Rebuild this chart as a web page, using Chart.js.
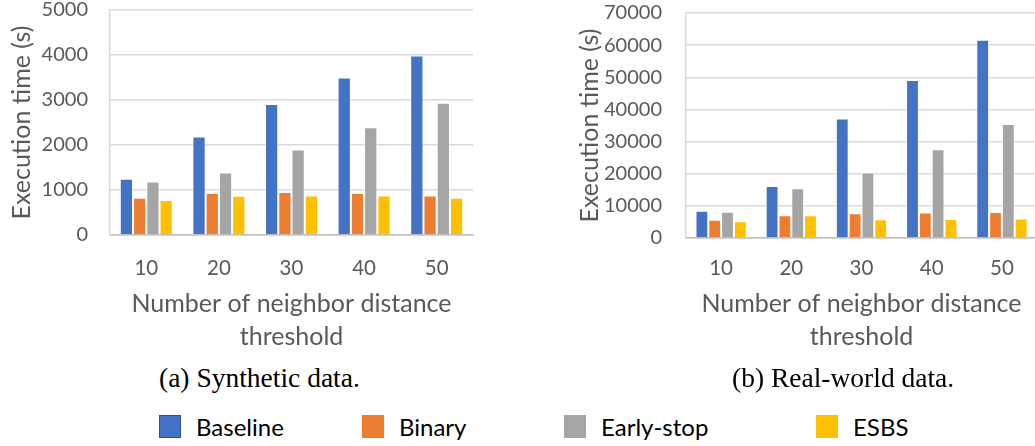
<!DOCTYPE html>
<html>
<head>
<meta charset="utf-8">
<script src="https://cdn.jsdelivr.net/npm/chart.js@4.4.1/dist/chart.umd.min.js"></script>
<style>
  html, body { margin: 0; padding: 0; background: #fff; }
  #wrap { position: relative; width: 1035px; height: 446px; overflow: hidden; background: #fff; }
  canvas { position: absolute; }
  .caption { position: absolute; font-family: "Liberation Serif", "Times New Roman", serif; font-size: 27.5px; line-height: 27px; color: #000; white-space: nowrap; }
  .legend-item { position: absolute; top: 415px; height: 23px; display: flex; align-items: center; }
  .legend-box { width: 22px; height: 23px; box-sizing: border-box; }
  .legend-text { margin-left: 15px; font-family: Lato, "Open Sans", sans-serif; font-size: 24px; line-height: 23px; color: #000; white-space: nowrap; }
</style>
</head>
<body>
<div id="wrap">
  <canvas id="synthetic" width="475" height="360" style="left:0px;top:0px;"></canvas>
  <canvas id="realworld" width="472" height="360" style="left:565px;top:2.7px;"></canvas>
  <div class="caption" id="capA" style="left:159px;top:364px;"></div>
  <div class="caption" id="capB" style="left:732px;top:364px;"></div>
  <div id="legend"></div>
</div>
<script>
// Neighbor distance thresholds (x categories)
const thresholds = ['10', '20', '30', '40', '50'];

// Series names and colours
const seriesNames = ['Baseline', 'Binary', 'Early-stop', 'ESBS'];
const seriesColors = ['#4472C4', '#ED7D31', '#A5A5A5', '#FFC000'];

// Execution time (s), synthetic data
const synBaseline  = [1250, 2190, 2910, 3500, 3990];
const synBinary    = [830, 935, 955, 935, 880];
const synEarlyStop = [1190, 1390, 1900, 2395, 2940];
const synESBS      = [780, 875, 880, 880, 830];

// Execution time (s), real-world data
const realBaseline  = [8500, 16200, 37150, 49150, 61700];
const realBinary    = [5700, 7050, 7700, 7900, 8100];
const realEarlyStop = [8200, 15450, 20350, 27600, 35450];
const realESBS      = [5200, 7050, 5800, 5900, 6100];

// Y axis ranges
const synYMax = 5000, synYStep = 1000;
const realYMax = 70000, realYStep = 10000;

const captionA = '(a) Synthetic data.';
const captionB = '(b) Real-world data.';
const yTitle = 'Execution time (s)';
const xTitle = ['Number of neighbor distance', 'threshold'];

const tickColor = '#595959';
const gridColor = '#D9D9D9';
const sansFont = 'Lato, "Open Sans", sans-serif';

function buildDatasets(seriesValues) {
  return seriesValues.map((vals, i) => ({
    label: seriesNames[i],
    data: vals,
    backgroundColor: seriesColors[i],
    borderColor: 'rgba(255,255,255,0.55)',
    borderWidth: 1,
    categoryPercentage: 0.73,
    barPercentage: 1.0
  }));
}

function makeChart(id, seriesValues, yMax, yStep, geom) {
  return new Chart(document.getElementById(id), {
    type: 'bar',
    data: { labels: thresholds, datasets: buildDatasets(seriesValues) },
    options: {
      responsive: false,
      animation: false,
      devicePixelRatio: 1,
      layout: { padding: { top: 0, right: geom.padRight, left: 0, bottom: 0 } },
      plugins: { legend: { display: false }, tooltip: { enabled: false } },
      scales: {
        x: {
          grid: { display: false, drawTicks: false },
          border: { display: true, color: '#BFBFBF', width: 1.5 },
          ticks: { color: tickColor, font: { family: sansFont, size: 20.5 }, padding: geom.xTickPad, maxRotation: 0 },
          title: {
            display: true, text: xTitle, color: tickColor,
            font: { family: sansFont, size: 25, lineHeight: 1.32 },
            padding: { top: 0, bottom: geom.xTitlePadBottom }
          },
          afterFit: (scale) => { scale.height = geom.xAxisHeight; }
        },
        y: {
          min: 0, max: yMax,
          // invisible tick marks give the gap between labels and the axis
          grid: { color: gridColor, lineWidth: 1.5, drawTicks: true, tickLength: geom.yTickGap, tickColor: 'rgba(0,0,0,0)' },
          border: { display: true, color: gridColor, width: 1.5 },
          ticks: {
            stepSize: yStep, color: tickColor, padding: 0,
            font: { family: sansFont, size: 20, lineHeight: 1.0 },
            callback: (v) => String(v)
          },
          title: {
            display: true, text: yTitle, color: tickColor,
            font: { family: sansFont, size: 25, lineHeight: 1.2 },
            padding: { top: geom.yTitlePad, bottom: 0 }
          },
          afterFit: (scale) => { scale.width = geom.yAxisWidth; }
        }
      }
    }
  });
}

makeChart('synthetic', [synBaseline, synBinary, synEarlyStop, synESBS], synYMax, synYStep, {
  padRight: 2, xAxisHeight: 125, xTickPad: 21, xTitlePadBottom: 7,
  yTickGap: 22, yTitlePad: 7, yAxisWidth: 110
});
makeChart('realworld', [realBaseline, realBinary, realEarlyStop, realESBS], realYMax, realYStep, {
  padRight: 0, xAxisHeight: 125, xTickPad: 18.5, xTitlePadBottom: 9.7,
  yTickGap: 24, yTitlePad: 10, yAxisWidth: 121
});

document.getElementById('capA').textContent = captionA;
document.getElementById('capB').textContent = captionB;

// Legend shared by both charts
const legendLeft = [159, 362, 564, 816];
const legend = document.getElementById('legend');
seriesNames.forEach((name, i) => {
  const item = document.createElement('div');
  item.className = 'legend-item';
  item.style.left = legendLeft[i] + 'px';
  const box = document.createElement('div');
  box.className = 'legend-box';
  box.style.background = seriesColors[i];
  box.style.border = i === 0 ? '1.5px solid #2F528F' : '1px solid ' + seriesColors[i];
  const txt = document.createElement('span');
  txt.className = 'legend-text';
  txt.textContent = name;
  item.appendChild(box);
  item.appendChild(txt);
  legend.appendChild(item);
});
</script>
</body>
</html>
